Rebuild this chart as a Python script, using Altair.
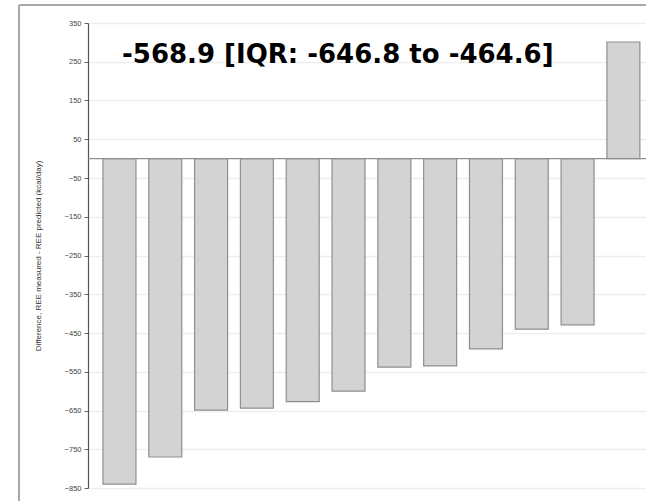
import altair as alt
import pandas as pd

# Per-patient difference between measured and predicted resting energy expenditure
patients = [f"P{i}" for i in range(1, 13)]
differences = [-840, -770, -649, -644, -627, -600, -538, -535, -491, -440, -429, 301]

y_ticks = [350, 250, 150, 50, -50, -150, -250, -350, -450, -550, -650, -750, -850]
summary_text = "-568.9 [IQR: -646.8 to -464.6]"
y_title = "Difference, REE measured - REE predicted (kcal/day)"

df = pd.DataFrame({"patient": patients, "diff": differences})

W, H = 558, 465
PAD_L, PAD_T = 88, 23

y_scale = alt.Scale(domain=[-850, 350], nice=False, zero=False)

bars = alt.Chart(df).mark_bar(
    fill="#d3d3d3", stroke="#8f8f8f", strokeWidth=1.2
).encode(
    x=alt.X("patient:N", sort=patients,
            scale=alt.Scale(paddingInner=0.28, paddingOuter=0.23, align=0.71),
            axis=None),
    y=alt.Y("diff:Q", scale=y_scale,
            axis=alt.Axis(values=y_ticks, tickCount=len(y_ticks),
                          title=y_title, titleFontSize=8,
                          titleFont="Liberation Sans", titleFontWeight="normal",
                          titleColor="#333", titlePadding=22,
                          labelFont="Liberation Sans", labelFontSize=7.5,
                          labelColor="#444", labelOverlap=False,
                          tickSize=4, tickColor="#666",
                          domainColor="#555", domainWidth=1.2,
                          gridColor="#eeeeee", gridWidth=1.5, labelPadding=3)),
)

zero_df = pd.DataFrame({"zero": [0]})
zero_line = alt.Chart(zero_df).mark_rule(color="#8f8f8f", strokeWidth=1.2).encode(
    y=alt.Y("zero:Q", scale=y_scale)
)

# frame lines around the figure region
frame_top = alt.Chart(zero_df).mark_rule(color="#a8a8a8", strokeWidth=2).encode(
    x=alt.value(19 - PAD_L), x2=alt.value(W + 10), y=alt.value(5 - PAD_T)
)
frame_left = alt.Chart(zero_df).mark_rule(color="#a8a8a8", strokeWidth=2).encode(
    x=alt.value(19 - PAD_L), y=alt.value(5 - PAD_T), y2=alt.value(H + 40)
)

label = alt.Chart(pd.DataFrame({"t": [summary_text]})).mark_text(
    font="DejaVu Sans", fontWeight="bold", fontSize=26, align="left",
    baseline="alphabetic", color="#000"
).encode(
    text="t:N", x=alt.value(122 - PAD_L), y=alt.value(62.5 - PAD_T)
)

chart = alt.layer(bars, zero_line, frame_top, frame_left, label).properties(
    width=W, height=H,
    autosize=alt.AutoSizeParams(type="none"),
    padding={"left": PAD_L, "top": PAD_T, "right": 0, "bottom": 13},
    background="white",
).configure_view(stroke=None)

chart.save("out.html", embed_options={"renderer": "svg", "actions": False})
